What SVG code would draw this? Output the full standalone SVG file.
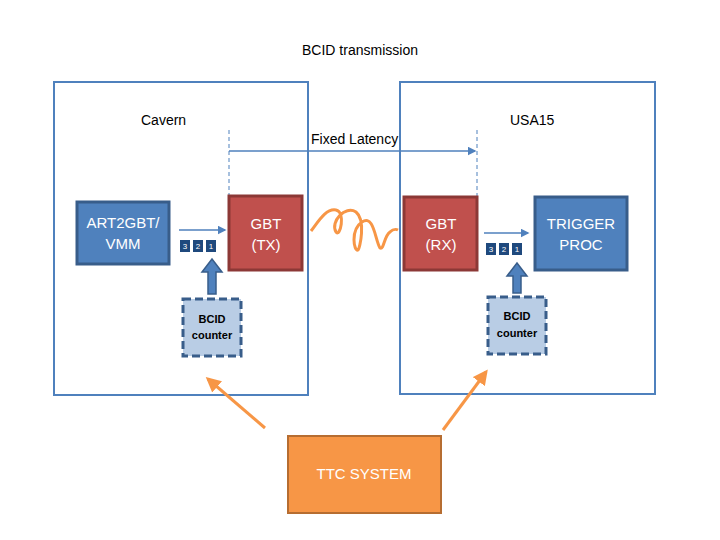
<svg xmlns="http://www.w3.org/2000/svg" width="720" height="540" viewBox="0 0 720 540">
<defs>
<style>
text{font-family:"Liberation Sans",Arial,sans-serif;}
.area{fill:#fff;stroke:#4f81bd;stroke-width:2}
.blue{fill:#4f81bd;stroke:#385d8a;stroke-width:3}
.red{fill:#c0504d;stroke:#8c3836;stroke-width:3}
.cnt{fill:#b9cde5;stroke:#385d8a;stroke-width:3;stroke-dasharray:8,4}
.sq{fill:#1f497d}
.w{fill:#fff;font-size:15px;text-anchor:middle}
.sqt{fill:#fff;font-size:8px;text-anchor:middle}
.k{fill:#000;font-size:14px}
.ln{stroke:#4f81bd;stroke-width:1.5;fill:none}
.dash{stroke:#4f81bd;stroke-width:1;stroke-dasharray:4,3}
.up{fill:#4f81bd;stroke:#385d8a;stroke-width:1.5}
.or{stroke:#f79646;stroke-width:3;fill:none}
</style>
<marker id="ah" markerWidth="6" markerHeight="6" refX="5" refY="3" orient="auto"><path d="M0,0L6,3L0,6z" fill="#4f81bd"/></marker>
<marker id="oh" markerWidth="5" markerHeight="5" refX="4" refY="2.5" orient="auto"><path d="M0,0L5,2.5L0,5z" fill="#f79646"/></marker>
</defs>
<text x="360" y="55" class="k" text-anchor="middle">BCID transmission</text>
<g id="cavern"><rect class="area" x="54" y="82" width="254" height="313"/><text x="141" y="125" class="k">Cavern</text></g>
<g id="usa15"><rect class="area" x="400" y="82" width="255" height="312"/><text x="510" y="125" class="k">USA15</text></g>
<g id="latency">
<line class="dash" x1="229" y1="130" x2="229" y2="196"/><line class="dash" x1="477" y1="130" x2="477" y2="196"/>
<text x="311" y="144" class="k">Fixed Latency</text>
</g>
<g id="art"><rect class="blue" x="77" y="202" width="92" height="62"/><text x="123" y="228" class="w">ART2GBT/</text><text x="123" y="249" class="w">VMM</text></g>
<g id="gbttx"><rect class="red" x="229" y="196" width="73" height="74"/><text x="266" y="229" class="w">GBT</text><text x="266" y="250" class="w">(TX)</text></g>
<g id="gbtrx"><rect class="red" x="404" y="197" width="73" height="73"/><text x="441" y="229" class="w">GBT</text><text x="441" y="250" class="w">(RX)</text></g>
<g id="trig"><rect class="blue" x="535" y="197" width="92" height="73"/><text x="581" y="229" class="w">TRIGGER</text><text x="581" y="250" class="w">PROC</text></g>
<g id="bits1"><rect class="sq" x="180" y="240" width="10" height="12"/><rect class="sq" x="193" y="240" width="10" height="12"/><rect class="sq" x="206" y="240" width="10" height="12"/>
<text x="185" y="249" class="sqt">3</text><text x="198" y="249" class="sqt">2</text><text x="211" y="249" class="sqt">1</text></g>
<g id="bits2"><rect class="sq" x="486" y="243" width="10" height="12"/><rect class="sq" x="499" y="243" width="10" height="12"/><rect class="sq" x="512" y="243" width="10" height="12"/>
<text x="491" y="252" class="sqt">3</text><text x="504" y="252" class="sqt">2</text><text x="517" y="252" class="sqt">1</text></g>
<g id="cnt1"><rect class="cnt" x="183" y="299" width="58" height="57"/><text x="212" y="323" font-size="11" font-weight="bold" text-anchor="middle">BCID</text><text x="212" y="339" font-size="11" font-weight="bold" text-anchor="middle">counter</text></g>
<g id="cnt2"><rect class="cnt" x="488" y="297" width="58" height="57"/><text x="517" y="320" font-size="11" font-weight="bold" text-anchor="middle">BCID</text><text x="517" y="337" font-size="11" font-weight="bold" text-anchor="middle">counter</text></g>
<g id="ttc"><rect x="288" y="436" width="153" height="77" fill="#f79646" stroke="#b66d31" stroke-width="2"/><text x="364" y="479" class="w" font-size="14">TTC SYSTEM</text></g>
<g id="connectors">
<line class="ln" x1="229" y1="151" x2="475" y2="151" marker-end="url(#ah)"/>
<line class="ln" x1="179" y1="230" x2="225" y2="230" marker-end="url(#ah)"/>
<line class="ln" x1="484" y1="233" x2="528" y2="233" marker-end="url(#ah)"/>
<path class="up" d="M208,294V272H202L212,259L222,272H216V294Z"/>
<path class="up" d="M513,293V276H507L517,263L527,276H521V293Z"/>
<path class="or" d="M311,231C318,222 326,208 336,210C346,212 340,238 336,232C330,222 345,205 356,212C366,220 360,248 358,250C354,252 350,230 362,222C374,214 375,240 380,248C384,250 384,236 390,232C394,228 398,230 398,230" stroke-width="2.5"/>
<line class="or" x1="265" y1="428" x2="208" y2="379" marker-end="url(#oh)"/>
<line class="or" x1="443" y1="430" x2="486" y2="372" marker-end="url(#oh)"/>
</g>
</svg>
